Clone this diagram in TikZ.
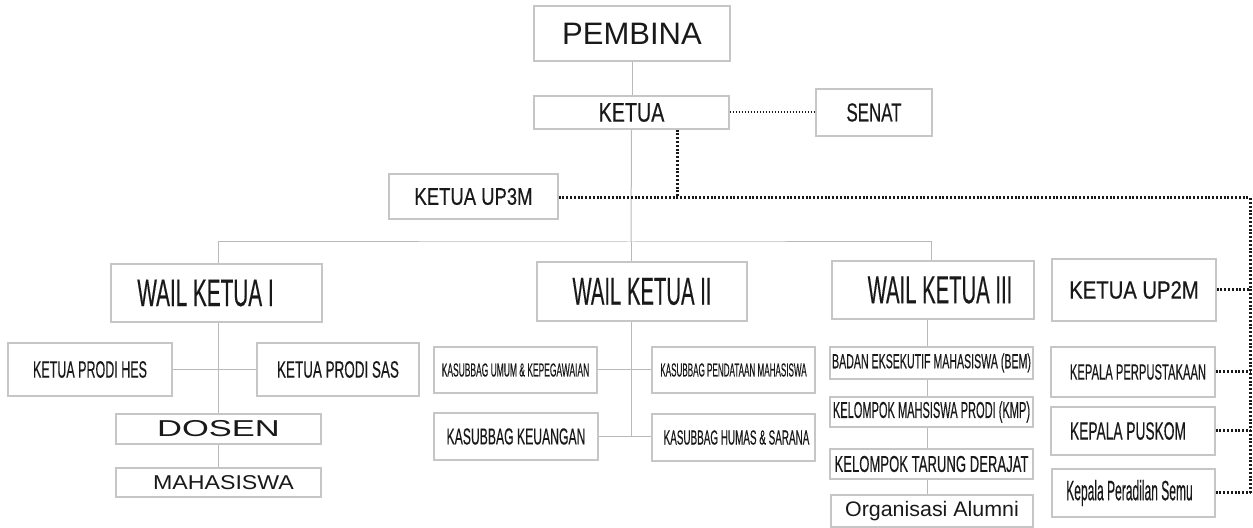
\documentclass[tikz,border=0pt]{standalone}
\usepackage{fontspec}
\setmainfont{Liberation Sans}
\newfontfamily\heavyf[FakeBold=0.5]{Liberation Sans}
\usepackage{graphicx}
\tikzset{
 box/.style={draw=gray!45, line width=0.6pt, inner sep=0pt, fill=white, text=black!90},
 tree/.style={draw=gray!55, line width=0.5pt},
 dotline/.style={draw=black!90, line width=1.5pt, dash pattern=on 1pt off 0.9pt},
 thindot/.style={draw=black!90, line width=1pt, dash pattern=on 0.8pt off 0.7pt},
}
\newcommand\lb[3]{{\fontsize{#1pt}{#1pt}\selectfont\scalebox{#2}[1]{#3}}}
\newcommand\nl[3]{{\heavyf\fontsize{#1pt}{#1pt}\selectfont\scalebox{#2}[1]{#3}}}
\newcommand\bx[6]{%
 \pgfmathsetmacro\bw{(#4-#2)*0.5}%
 \pgfmathsetmacro\bh{(#5-#3)*0.5}%
 \node[box, minimum width=\bw pt, minimum height=\bh pt] (#1) at ({(#2+#4)/2},{(#3+#5)/2}) {#6};}
\begin{document}
\begin{tikzpicture}[x=0.5pt,y=-0.5pt]
\useasboundingbox (0,0) rectangle (1253,528);
\fill[white] (0,0) rectangle (1253,528);
% coordinates for junctions
\coordinate (hub) at (631,242);
\coordinate (v3) at (927,0);
\coordinate (rt) at (1250,198);
\coordinate (kd) at (677,198);
% top
\bx{pembina}{534}{6}{730}{61}{\lb{15.5}{1}{PEMBINA}}
\bx{ketua}{534}{96}{729}{129}{\nl{13.5}{0.73}{KETUA}}
\bx{senat}{816}{89}{932}{136}{\nl{13}{0.65}{SENAT}}
\bx{up3m}{389}{174}{558}{219}{\nl{12}{0.77}{KETUA UP3M}}
% column I
\bx{wk1}{111}{264}{322}{322}{\hspace*{-11pt}\nl{19.2}{0.54}{WAIL KETUA I}}
\bx{hes}{8}{343}{172}{396}{\nl{11.8}{0.53}{KETUA PRODI HES}}
\bx{sas}{257}{343}{419}{396}{\nl{11.8}{0.57}{KETUA PRODI SAS}}
\bx{dosen}{116}{414}{321}{444}{\lb{11.5}{1.5}{DOSEN}}
\bx{mhs}{116}{468}{321}{497}{\hspace*{5pt}\lb{10}{1.16}{MAHASISWA}}
% column II
\bx{wk2}{537}{262}{747}{321}{\nl{19.5}{0.52}{WAIL KETUA II}}
\bx{umum}{434}{347}{597}{393}{\nl{9.4}{0.45}{KASUBBAG UMUM \& KEPEGAWAIAN}}
\bx{pendataan}{652}{347}{815}{393}{\nl{9.4}{0.43}{KASUBBAG PENDATAAN MAHASISWA}}
\bx{keuangan}{434}{413}{598}{460}{\nl{11.5}{0.53}{KASUBBAG KEUANGAN}}
\bx{humas}{652}{414}{815}{461}{\hspace*{3pt}\nl{10.2}{0.485}{KASUBBAG HUMAS \& SARANA}}
% column III
\bx{wk3}{832}{261}{1034}{319}{\hspace*{7pt}\nl{19.5}{0.52}{WAIL KETUA III}}
\bx{bem}{830}{347}{1033}{379}{\nl{10.2}{0.52}{BADAN EKSEKUTIF MAHASISWA (BEM)}}
\bx{kmp}{830}{397}{1033}{427}{\nl{11.5}{0.48}{KELOMPOK MAHSISWA PRODI (KMP)}}
\bx{tarung}{830}{449}{1033}{479}{\nl{11.5}{0.57}{KELOMPOK TARUNG DERAJAT}}
\bx{alumni}{831}{495}{1033}{527}{\lb{10.5}{1.02}{Organisasi Alumni}}
% column IV
\bx{up2m}{1052}{259}{1216}{321}{\nl{12.5}{0.81}{KETUA UP2M}}
\bx{perpus}{1051}{347}{1215}{397}{\hspace*{5pt}\nl{11}{0.51}{KEPALA PERPUSTAKAAN}}
\bx{puskom}{1051}{407}{1215}{455}{\hspace*{-5pt}\nl{12.5}{0.55}{KEPALA PUSKOM}}
\bx{peradilan}{1052}{469}{1215}{517}{\hspace*{-4pt}\nl{14}{0.43}{Kepala Peradilan Semu}}
% solid tree connectors
\draw[tree] (pembina.south) -- (pembina.south |- ketua.north);
\draw[tree] (ketua.south) -- (hub);
\draw[tree] (wk1.north -| dosen.north) |- (hub) -| (wk3.north -| 931,0);
\draw[tree] (hub) -- (hub |- wk2.north);
\draw[tree] (dosen.north |- wk1.south) -- (dosen.north);
\draw[tree] (dosen.south) -- (mhs.north);
\draw[tree] (hes.east) -- (sas.west);
\draw[tree] (hub |- wk2.south) -- (hub |- keuangan.east);
\draw[tree] (umum.east) -- (pendataan.west);
\draw[tree] (keuangan.east) -- (keuangan.east -| humas.west);
\draw[tree] (v3 |- wk3.south) -- (v3 |- bem.north);
\draw[tree] (v3 |- bem.south) -- (v3 |- kmp.north);
\draw[tree] (v3 |- kmp.south) -- (v3 |- tarung.north);
\draw[tree] (v3 |- tarung.south) -- (v3 |- alumni.north);
% dotted connectors
\draw[thindot] (ketua.east) -- (senat.west);
\draw[dotline] (kd |- ketua.south) -- (kd);
\draw[dotline] (up3m.east |- rt) -- (rt) -- (rt |- peradilan.east);
\draw[dotline] (up2m.east) -- (up2m.east -| rt);
\draw[dotline] (perpus.east) -- (perpus.east -| rt);
\draw[dotline] (puskom.east) -- (puskom.east -| rt);
\draw[dotline] (peradilan.east) -- (peradilan.east -| rt);
\end{tikzpicture}
\end{document}
